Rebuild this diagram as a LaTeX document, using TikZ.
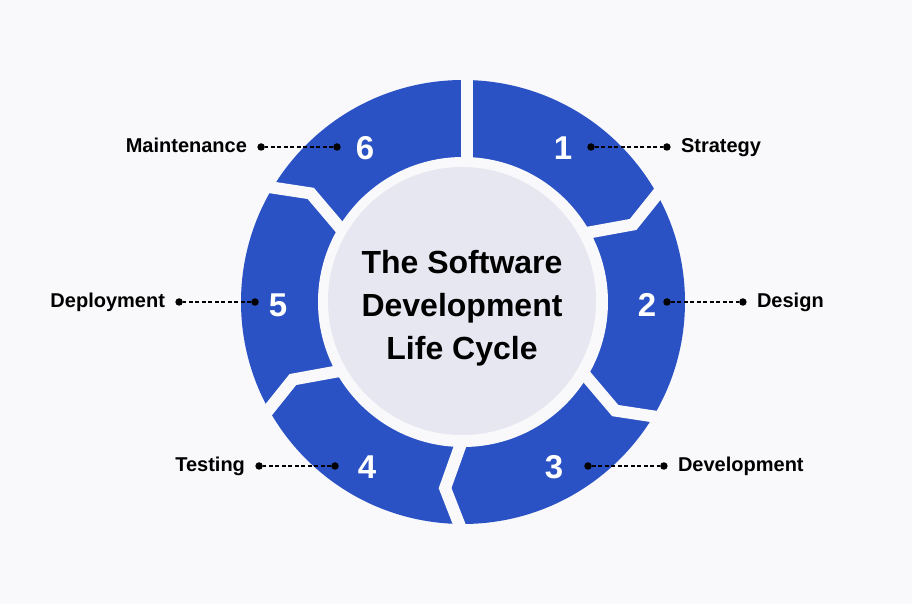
\documentclass[tikz,border=0pt]{standalone}
\usepackage{fontspec}
\setmainfont{Liberation Sans}
\usetikzlibrary{positioning}

\definecolor{pagebg}{RGB}{249,249,251}
\definecolor{ringblue}{RGB}{43,82,196}
\definecolor{hubfill}{RGB}{230,231,241}

\tikzset{
    gap/.style={draw=pagebg, line width=12bp},
    stepnum/.style={text=white, font=\fontsize{33bp}{40bp}\selectfont\bfseries, inner sep=0pt},
    phase/.style={font=\fontsize{20bp}{24bp}\selectfont\bfseries, inner sep=0pt, text depth=0pt, yshift=1.5bp},
    dot/.style={circle, fill=black, inner sep=0pt, minimum size=7.5bp},
    leader/.style={line width=1.3bp, dash pattern=on 4bp off 2.5bp},
    hubtext/.style={font=\fontsize{32bp}{43bp}\selectfont\bfseries, align=center}
}

\begin{document}
\begin{tikzpicture}[x=1bp, y=1bp]
    \useasboundingbox[fill=pagebg] (-463, -302) rectangle (449, 302);

    % ring and the gaps between the six steps
    \fill[ringblue] (0, 0) circle (222);
    \fill[pagebg] (0, 0) circle (145);
    \foreach \a in {30, -30, -90, -150, 150} {
        \draw[gap] (\a:136) -- (\a-5.5:187) -- (\a:232);
    }
    \draw[gap] (4, 136) -- (4, 232);

    \fill[hubfill] (-1, 1) circle (134);
    \node[hubtext] (hub) at (-1, -6) {The Software\\Development\\Life Cycle};

    % step numbers
    \node[stepnum] (n1) at (100, 154) {1};
    \node[stepnum] (n2) at (184, -3) {2};
    \node[stepnum] (n3) at (91, -165) {3};
    \node[stepnum] (n4) at (-96, -165) {4};
    \node[stepnum] (n5) at (-185, -3) {5};
    \node[stepnum] (n6) at (-98, 154) {6};

    % leaders and labels
    \node[dot] (d1a) at (128, 155) {};
    \node[dot, right=68bp of d1a] (d1b) {};
    \node[phase, right=10bp of d1b] (l1) {Strategy};

    \node[dot] (d2a) at (204, 0) {};
    \node[dot, right=68bp of d2a] (d2b) {};
    \node[phase, right=10bp of d2b] (l2) {Design};

    \node[dot] (d3a) at (125, -164) {};
    \node[dot, right=68bp of d3a] (d3b) {};
    \node[phase, right=10bp of d3b] (l3) {Development};

    \node[dot] (d4a) at (-128, -164) {};
    \node[dot, left=68bp of d4a] (d4b) {};
    \node[phase, left=10bp of d4b] (l4) {Testing};

    \node[dot] (d5a) at (-208, 0) {};
    \node[dot, left=68bp of d5a] (d5b) {};
    \node[phase, left=10bp of d5b] (l5) {Deployment};

    \node[dot] (d6a) at (-126, 155) {};
    \node[dot, left=68bp of d6a] (d6b) {};
    \node[phase, left=10bp of d6b] (l6) {Maintenance};

    \foreach \i in {1,...,6} {
        \draw[leader] (d\i a) -- (d\i b);
    }
\end{tikzpicture}
\end{document}
